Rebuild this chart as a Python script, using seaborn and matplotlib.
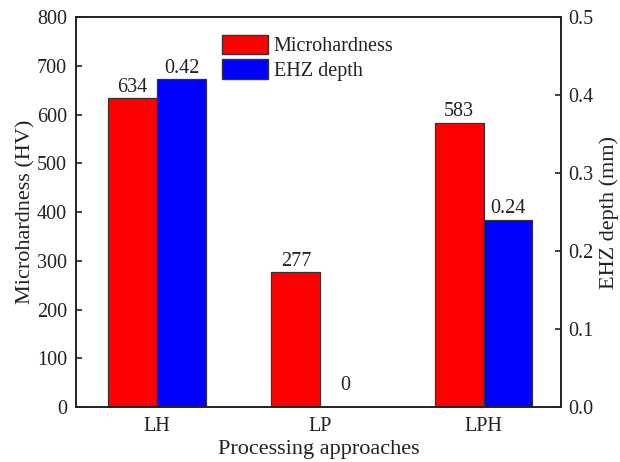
import matplotlib
matplotlib.use("Agg")
import matplotlib.pyplot as plt
import seaborn as sns
import pandas as pd
from matplotlib.patches import Patch

categories = ["LH", "LP", "LPH"]
microhardness = [634, 277, 583]
ehz_depth = [0.42, 0.0, 0.24]
series_names = ["Microhardness", "EHZ depth"]
colors = {"Microhardness": "#ff0000", "EHZ depth": "#0000ff"}

sns.set_theme(style="white")
plt.rcParams['font.family'] = ['Liberation Serif', 'DejaVu Serif']

FS = 14.5
LFS = 16

df_left = pd.DataFrame({
    "cat": categories * 2,
    "series": [series_names[0]] * 3 + [series_names[1]] * 3,
    "value": microhardness + [float('nan')] * 3,
})
df_right = pd.DataFrame({
    "cat": categories * 2,
    "series": [series_names[0]] * 3 + [series_names[1]] * 3,
    "value": [float('nan')] * 3 + ehz_depth,
})

fig = plt.figure(figsize=(6.2, 4.62), dpi=100)
ax = fig.add_axes([0.1226, 0.119, 0.7823, 0.844])
ax2 = ax.twinx()

for a, d in ((ax, df_left), (ax2, df_right)):
    sns.barplot(data=d, x="cat", y="value", hue="series", hue_order=series_names,
                palette=colors, saturation=1, dodge=True, width=0.6,
                edgecolor="#333333", linewidth=0.9, ax=a, legend=False, errorbar=None)

ax.set_ylim(0, 800)
ax2.set_ylim(0, 0.5)
ax.set_xlim(-0.497, 2.475)
ax.set_yticks(range(0, 801, 100))
ax2.set_yticks([0.0, 0.1, 0.2, 0.3, 0.4, 0.5])
ax2.set_yticklabels(["0.0", "0.1", "0.2", "0.3", "0.4", "0.5"])

for c in ax.containers:
    labs = ["" if pd.isna(v) else f"{v:.0f}" for v in c.datavalues]
    ax.bar_label(c, labels=labs, padding=1, fontsize=FS, color="#222222")
for c in ax2.containers:
    vals = list(c.datavalues)
    if all(pd.isna(v) for v in vals):
        continue
    labs = ["0" if v == 0 else f"{v:.2f}" for v in vals]
    txts = ax2.bar_label(c, labels=labs, padding=1, fontsize=FS, color="#222222")
    for t, v in zip(txts, vals):
        if v == 0:
            t.xyann = (0, 9)

ax.set_xlabel("Processing approaches", fontsize=LFS, labelpad=3, color="#222222")
ax.set_ylabel("Microhardness (HV)", fontsize=LFS, labelpad=1, color="#222222")
ax2.set_ylabel("EHZ depth (mm)", fontsize=LFS, labelpad=4, color="#222222")

for a in (ax, ax2):
    for s in a.spines.values():
        s.set_color("#222222")
        s.set_linewidth(1.2)
ax.tick_params(axis="y", direction="in", length=4, width=1.2, labelsize=FS,
               color="#222222", labelcolor="#222222", pad=6.5)
ax.tick_params(axis="x", length=0, labelsize=FS, pad=7, labelcolor="#222222")
ax2.tick_params(axis="y", direction="in", length=4, width=1.2, labelsize=FS,
                color="#222222", labelcolor="#222222", pad=5)

handles = [Patch(facecolor=colors[s], edgecolor="#333333", label=s) for s in series_names]
leg = ax.legend(handles=handles, loc="upper left", bbox_to_anchor=(0.302, 0.955),
                frameon=False, fontsize=FS, handlelength=2.25, handleheight=1.1,
                handletextpad=0.3, labelspacing=0.15, borderaxespad=0, borderpad=0)
for t in leg.get_texts():
    t.set_color("#222222")

fig.savefig("out.png", dpi=100)
